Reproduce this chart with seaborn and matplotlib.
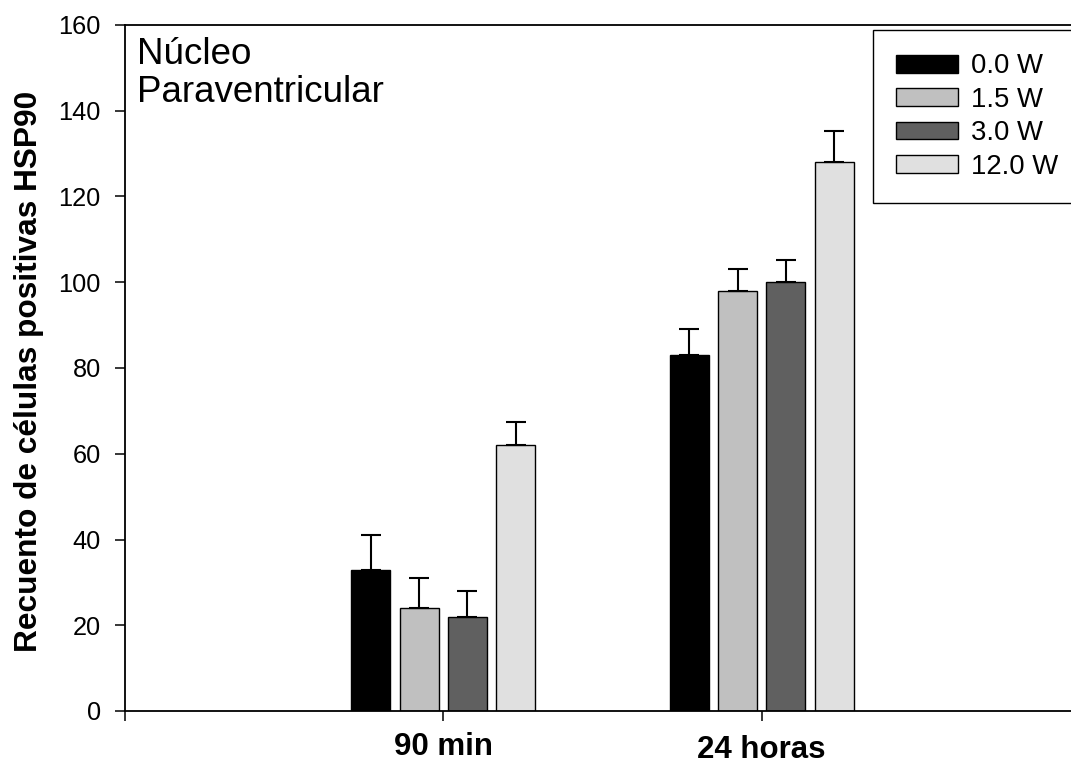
import matplotlib
matplotlib.use("Agg")
from matplotlib import pyplot as plt
from matplotlib.patches import Patch
import pandas as pd
import seaborn as sns
import numpy as np

# data
tiempos = ["90 min", "24 horas"]
potencias = ["0.0 W", "1.5 W", "3.0 W", "12.0 W"]
media_90min = [33, 24, 22, 62]
media_24h = [83, 98, 100, 128]
error_90min = [8, 7, 6, 5.4]
error_24h = [6, 5, 5.3, 7.3]
colores = ["#000000", "#c0c0c0", "#606060", "#e0e0e0"]

df = pd.DataFrame({
    "tiempo": [tiempos[0]] * 4 + [tiempos[1]] * 4,
    "potencia": potencias + potencias,
    "media": media_90min + media_24h,
    "error": error_90min + error_24h,
})

sns.set_style("ticks")
plt.rcParams["font.family"] = ["Liberation Sans", "DejaVu Sans"]
for k in ["text.color", "axes.labelcolor", "xtick.color", "ytick.color", "axes.edgecolor"]:
    plt.rcParams[k] = "black"

W, H = 1071, 763
fig = plt.figure(figsize=(W / 100, H / 100), dpi=100)
ax = fig.add_axes([125 / W, 1 - 711 / H, (1080 - 125) / W, (711 - 25) / H])

sns.barplot(data=df, x="tiempo", y="media", hue="potencia", order=tiempos,
            hue_order=potencias, palette=colores, width=0.607, gap=0.19,
            edgecolor="black", linewidth=1.0, legend=False, ax=ax, errorbar=None)

# upper error bars only, at the centre of each bar
for cont, pot in zip(ax.containers, potencias):
    sub = df[df["potencia"] == pot].set_index("tiempo").loc[tiempos]
    xs = [b.get_x() + b.get_width() / 2 for b in cont]
    ys = sub["media"].values
    err = sub["error"].values
    ax.errorbar(xs, ys, yerr=[np.zeros(len(err)), err], fmt="none", ecolor="black",
                elinewidth=1.5, capsize=7.2, capthick=1.5, zorder=3)

ax.set_xlim(-1, 2)
ax.set_ylim(0, 160)
ax.set_yticks(np.arange(0, 161, 20))
ax.set_xticks([-1, 0, 1])
ax.set_xticklabels(["", "90 min", "24 horas"], fontsize=22.5, fontweight="bold")
ax.tick_params(axis="y", labelsize=18.3, length=7, width=1.1, direction="out", pad=10.5)
ax.tick_params(axis="x", length=7, width=1.1, direction="out", pad=8)
# "24 horas" sits a little lower than "90 min" in the original
ax.xaxis.get_major_ticks()[2].set_pad(10)
ax.set_xlabel("")
ax.set_ylabel("Recuento de células positivas HSP90", fontsize=22.8, fontweight="bold")
ax.yaxis.set_label_coords((44 - 125) / 955, (711 - 371) / 686)
for s in ["left", "bottom", "top"]:
    ax.spines[s].set_linewidth(1.3)
    ax.spines[s].set_color("black")
ax.spines["right"].set_visible(False)

fig.text(137 / W, 1 - 37 / H, "Núcleo\nParaventricular", fontsize=26.5, va="top", ha="left",
         linespacing=1.1)

handles = [Patch(facecolor=c, edgecolor="black", linewidth=1.0) for c in colores]
leg = ax.legend(handles, potencias, loc="upper left", bbox_to_anchor=(873 / W, 1 - 30 / H),
                bbox_transform=fig.transFigure, borderaxespad=0, fontsize=19.8,
                handlelength=2.25, handleheight=0.62, handletextpad=0.48,
                labelspacing=0.27, borderpad=0.85, fancybox=False, framealpha=1)
leg.get_frame().set_edgecolor("black")
leg.get_frame().set_linewidth(1.0)

fig.savefig("out.png", dpi=100)
